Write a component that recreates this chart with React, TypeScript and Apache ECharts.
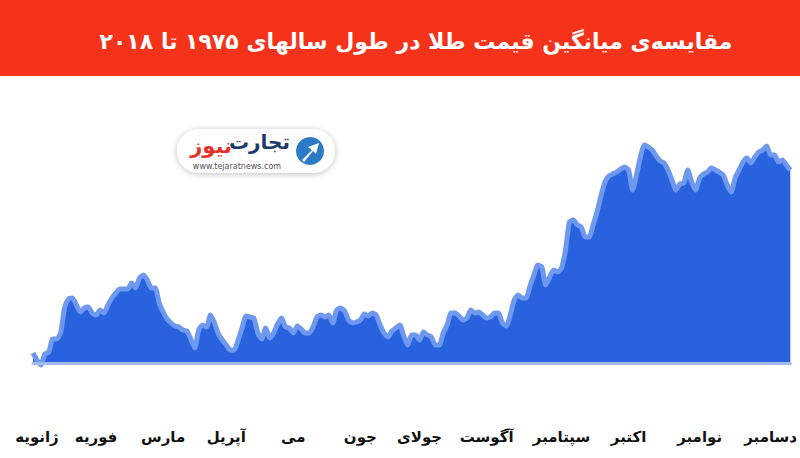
import React, { useEffect, useRef } from 'react';
import * as echarts from 'echarts';

const titleText = 'مقایسه‌ی میانگین قیمت طلا در طول سالهای ۱۹۷۵ تا ۲۰۱۸';
const monthNames = ['ژانویه', 'فوریه', 'مارس', 'آپریل', 'می', 'جون', 'جولای', 'آگوست', 'سپتامبر', 'اکتبر', 'نوامبر', 'دسامبر'];
const monthIndex = [1, 16, 33, 49, 66, 83, 98, 115, 134, 151, 169, 187];
const priceIndex = [
  10, 3, -2, 9, 11, 24, 24, 30, 55, 64, 65, 58, 51, 55, 56, 50, 48, 53, 50, 58,
  65, 70, 74, 74, 74, 80, 75, 85, 88, 83, 75, 75, 60, 51, 44, 40, 37, 36, 33, 32,
  24, 15, 33, 38, 36, 48, 40, 29, 23, 18, 13, 13, 23, 35, 47, 46, 45, 30, 24, 35,
  25, 30, 39, 45, 36, 35, 30, 37, 34, 30, 30, 36, 46, 48, 46, 48, 40, 53, 55, 52,
  43, 40, 41, 43, 49, 47, 50, 48, 38, 30, 26, 32, 35, 38, 27, 18, 28, 28, 23, 31,
  28, 26, 18, 18, 30, 38, 50, 50, 47, 43, 45, 53, 50, 51, 48, 45, 46, 50, 50, 40,
  37, 48, 63, 68, 65, 65, 77, 88, 98, 96, 78, 86, 93, 91, 95, 113, 141, 143, 138, 136,
  126, 126, 138, 151, 167, 181, 187, 189, 191, 194, 196, 193, 173, 188, 206, 218, 216, 213, 207, 202,
  200, 193, 183, 173, 179, 180, 193, 181, 173, 185, 189, 191, 195, 193, 191, 188, 178, 171, 185, 193,
  201, 205, 200, 206, 211, 213, 217, 208, 208, 201, 203, 198, 193,
];

const FA = 'DejaVu Sans';

export default function App() {
  const ref = useRef<HTMLDivElement>(null);
  useEffect(() => {
    const chart = echarts.init(ref.current!, null, { renderer: 'svg' });
    const categories = priceIndex.map((_, i) => {
      const m = monthIndex.indexOf(i);
      return m >= 0 ? monthNames[m] : '';
    });
    chart.setOption({
      animation: false,
      backgroundColor: '#ffffff',
      title: {
        text: titleText,
        left: 411,
        top: 25,
        textAlign: 'center',
        textStyle: { color: '#ffffff', fontSize: 22, fontWeight: 'bold', fontFamily: FA },
        z: 10,
      },
      grid: { left: 33, width: 768, top: 73, height: 300 },
      xAxis: {
        type: 'category',
        data: categories,
        boundaryGap: false,
        z: 3,
        axisLine: { onZero: true, lineStyle: { color: '#a3b9ec', width: 3 } },
        axisTick: { show: false },
        splitLine: { show: false },
        axisLabel: {
          interval: 0,
          margin: 56,
          color: '#111111',
          fontSize: 15,
          fontWeight: 'bold',
          fontFamily: FA,
        },
      },
      yAxis: {
        type: 'value',
        min: -10,
        max: 290,
        show: false,
        splitLine: { show: false },
      },
      series: [
        {
          type: 'line',
          data: priceIndex,
          symbol: 'none',
          smooth: 0.2,
          lineStyle: { color: '#6f99ef', width: 5 },
          areaStyle: { color: '#2962df', opacity: 1 },
          z: 2,
        },
      ],
      graphic: [
        {
          type: 'rect',
          z: 1,
          shape: { x: 0, y: 0, width: 800, height: 76 },
          style: { fill: '#f4331a' },
        },
        {
          type: 'group',
          z: 20,
          children: [
            {
              type: 'rect',
              shape: { x: 177, y: 129, width: 158, height: 44, r: 22 },
              style: { fill: '#ffffff', shadowBlur: 6, shadowColor: 'rgba(0,0,0,0.25)', shadowOffsetY: 1 },
            },
            {
              type: 'circle',
              shape: { cx: 310, cy: 151, r: 14 },
              style: { fill: '#2c79c6' },
            },
            {
              type: 'polygon',
              shape: {
                points: [
                  [302, 160], [312, 150], [308, 147], [319, 143], [316, 154], [313, 151], [304, 162],
                ],
              },
              style: { fill: '#ffffff' },
            },
            {
              type: 'text',
              style: {
                text: 'تجارت',
                x: 290,
                y: 142,
                align: 'right',
                verticalAlign: 'middle',
                fill: '#1d3a6b',
                font: 'bold 20px "DejaVu Sans"',
              },
            },
            {
              type: 'text',
              style: {
                text: 'نیوز',
                x: 232,
                y: 146,
                align: 'right',
                verticalAlign: 'middle',
                fill: '#e5332a',
                font: 'bold 21px "DejaVu Sans"',
              },
            },
            {
              type: 'text',
              style: {
                text: 'www.tejaratnews.com',
                x: 237,
                y: 166,
                align: 'center',
                verticalAlign: 'middle',
                fill: '#555555',
                font: '8px "DejaVu Sans"',
              },
            },
          ],
        },
      ],
    });
    return () => chart.dispose();
  }, []);
  return (
    <div
      ref={ref}
      style={{ position: 'fixed', left: 0, top: 0, width: 800, height: 458, background: '#ffffff' }}
    />
  );
}
